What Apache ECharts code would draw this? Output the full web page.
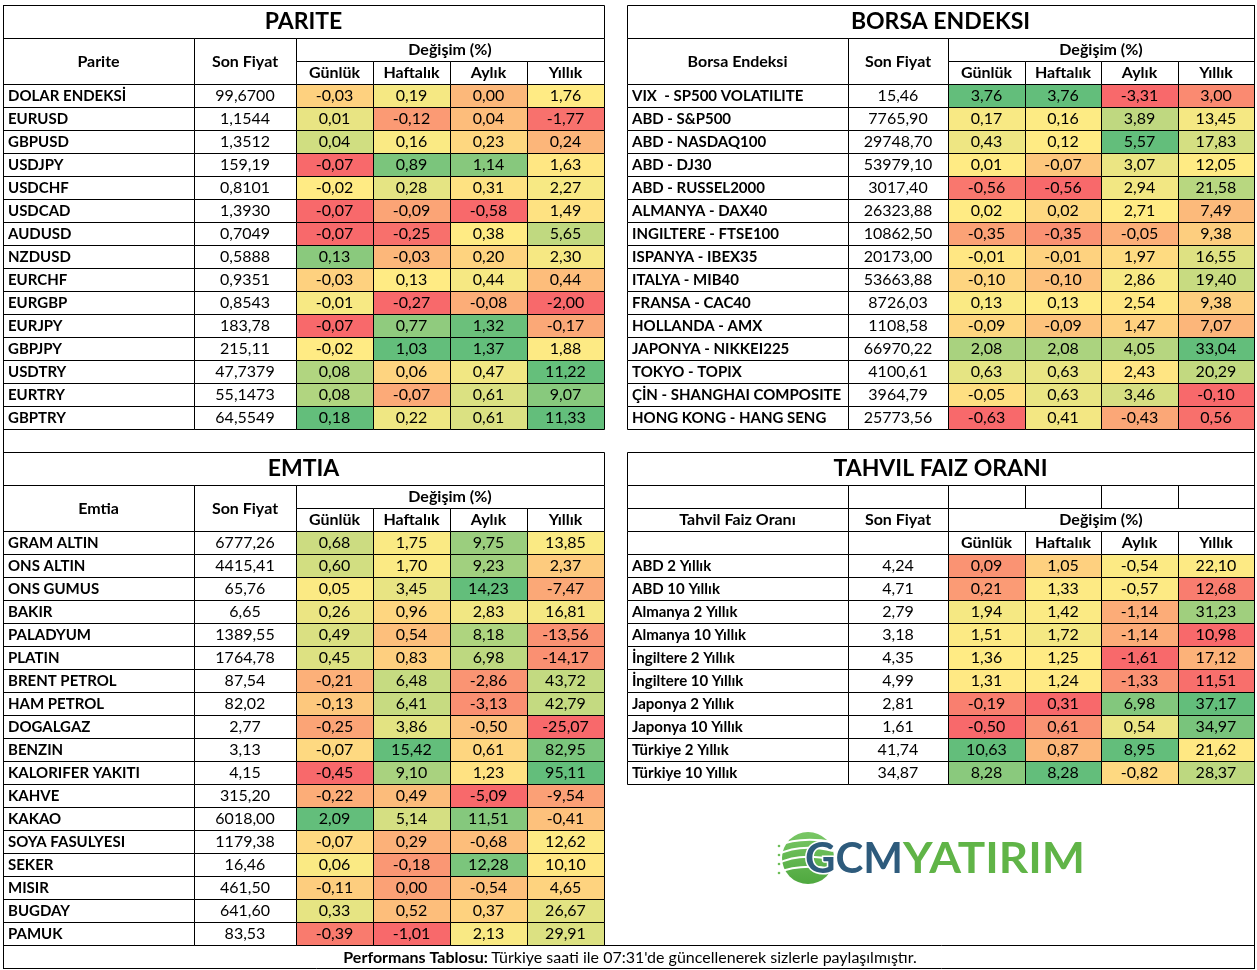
<!DOCTYPE html>
<html><head><meta charset="utf-8">
<script src="https://cdn.jsdelivr.net/npm/echarts@6/dist/echarts.min.js"></script>
<style>html,body{margin:0;padding:0;background:#fff}#c{width:1257px;height:970px}</style>
</head><body><div id="c"></div>
<script>
// ---------------- DATA ----------------
const changeHeaders = ['Günlük', 'Haftalık', 'Aylık', 'Yıllık'];

const pariteNames = ['DOLAR ENDEKSİ','EURUSD','GBPUSD','USDJPY','USDCHF','USDCAD','AUDUSD','NZDUSD','EURCHF','EURGBP','EURJPY','GBPJPY','USDTRY','EURTRY','GBPTRY'];
const paritePrices = [99.67, 1.1544, 1.3512, 159.19, 0.8101, 1.3930, 0.7049, 0.5888, 0.9351, 0.8543, 183.78, 215.11, 47.7379, 55.1473, 64.5549];
const pariteDecimals = [4,4,4,2,4,4,4,4,4,4,2,2,4,4,4];
const pariteDaily   = [-0.03, 0.01, 0.04, -0.07, -0.02, -0.07, -0.07, 0.13, -0.03, -0.01, -0.07, -0.02, 0.08, 0.08, 0.18];
const pariteWeekly  = [0.19, -0.12, 0.16, 0.89, 0.28, -0.09, -0.25, -0.03, 0.13, -0.27, 0.77, 1.03, 0.06, -0.07, 0.22];
const pariteMonthly = [0.00, 0.04, 0.23, 1.14, 0.31, -0.58, 0.38, 0.20, 0.44, -0.08, 1.32, 1.37, 0.47, 0.61, 0.61];
const pariteYearly  = [1.76, -1.77, 0.24, 1.63, 2.27, 1.49, 5.65, 2.30, 0.44, -2.00, -0.17, 1.88, 11.22, 9.07, 11.33];

const borsaNames = ['VIX  - SP500 VOLATILITE','ABD - S&P500','ABD - NASDAQ100','ABD - DJ30','ABD - RUSSEL2000','ALMANYA - DAX40','INGILTERE - FTSE100','ISPANYA - IBEX35','ITALYA - MIB40','FRANSA - CAC40','HOLLANDA - AMX','JAPONYA - NIKKEI225','TOKYO - TOPIX','ÇİN - SHANGHAI COMPOSITE','HONG KONG - HANG SENG'];
const borsaPrices = [15.46, 7765.90, 29748.70, 53979.10, 3017.40, 26323.88, 10862.50, 20173.00, 53663.88, 8726.03, 1108.58, 66970.22, 4100.61, 3964.79, 25773.56];
const borsaDaily   = [3.76, 0.17, 0.43, 0.01, -0.56, 0.02, -0.35, -0.01, -0.10, 0.13, -0.09, 2.08, 0.63, -0.05, -0.63];
const borsaWeekly  = [3.76, 0.16, 0.12, -0.07, -0.56, 0.02, -0.35, -0.01, -0.10, 0.13, -0.09, 2.08, 0.63, 0.63, 0.41];
const borsaMonthly = [-3.31, 3.89, 5.57, 3.07, 2.94, 2.71, -0.05, 1.97, 2.86, 2.54, 1.47, 4.05, 2.43, 3.46, -0.43];
const borsaYearly  = [3.00, 13.45, 17.83, 12.05, 21.58, 7.49, 9.38, 16.55, 19.40, 9.38, 7.07, 33.04, 20.29, -0.10, 0.56];

const emtiaNames = ['GRAM ALTIN','ONS ALTIN','ONS GUMUS','BAKIR','PALADYUM','PLATIN','BRENT PETROL','HAM PETROL','DOGALGAZ','BENZIN','KALORIFER YAKITI','KAHVE','KAKAO','SOYA FASULYESI','SEKER','MISIR','BUGDAY','PAMUK'];
const emtiaPrices = [6777.26, 4415.41, 65.76, 6.65, 1389.55, 1764.78, 87.54, 82.02, 2.77, 3.13, 4.15, 315.20, 6018.00, 1179.38, 16.46, 461.50, 641.60, 83.53];
const emtiaDaily   = [0.68, 0.60, 0.05, 0.26, 0.49, 0.45, -0.21, -0.13, -0.25, -0.07, -0.45, -0.22, 2.09, -0.07, 0.06, -0.11, 0.33, -0.39];
const emtiaWeekly  = [1.75, 1.70, 3.45, 0.96, 0.54, 0.83, 6.48, 6.41, 3.86, 15.42, 9.10, 0.49, 5.14, 0.29, -0.18, 0.00, 0.52, -1.01];
const emtiaMonthly = [9.75, 9.23, 14.23, 2.83, 8.18, 6.98, -2.86, -3.13, -0.50, 0.61, 1.23, -5.09, 11.51, -0.68, 12.28, -0.54, 0.37, 2.13];
const emtiaYearly  = [13.85, 2.37, -7.47, 16.81, -13.56, -14.17, 43.72, 42.79, -25.07, 82.95, 95.11, -9.54, -0.41, 12.62, 10.10, 4.65, 26.67, 29.91];

const tahvilNames = ['ABD 2 Yıllık','ABD 10 Yıllık','Almanya 2 Yıllık','Almanya 10 Yıllık','İngiltere 2 Yıllık','İngiltere 10 Yıllık','Japonya 2 Yıllık','Japonya 10 Yıllık','Türkiye 2 Yıllık','Türkiye 10 Yıllık'];
const tahvilPrices = [4.24, 4.71, 2.79, 3.18, 4.35, 4.99, 2.81, 1.61, 41.74, 34.87];
const tahvilDaily   = [0.09, 0.21, 1.94, 1.51, 1.36, 1.31, -0.19, -0.50, 10.63, 8.28];
const tahvilWeekly  = [1.05, 1.33, 1.42, 1.72, 1.25, 1.24, 0.31, 0.61, 0.87, 8.28];
const tahvilMonthly = [-0.54, -0.57, -1.14, -1.14, -1.61, -1.33, 6.98, 0.54, 8.95, -0.82];
const tahvilYearly  = [22.10, 12.68, 31.23, 10.98, 17.12, 11.51, 37.17, 34.97, 21.62, 28.37];

// ---------------- LAYOUT / STYLE ----------------
const FONT = 'Lato, Carlito, "Liberation Sans", sans-serif';
const DATA_SIZE = 16, NAME_SIZE = 15, HEAD_SIZE = 16, TITLE_SIZE = 23;
const ROW = 23, TITLE_H = 33;
const LEFT_COLS = [3, 194, 296, 604];
const RIGHT_COLS = [627, 848, 948, 1254];
const RED = [248,105,107], YEL = [255,235,132], GRN = [99,190,123];

function fmt(v, d) { return v.toFixed(d).replace('.', ','); }
function pct(arr, p) {
  const s = [...arr].sort((a,b)=>a-b); const r = p*(s.length-1);
  const lo = Math.floor(r), hi = Math.ceil(r); return s[lo] + (s[hi]-s[lo])*(r-lo);
}
function mix(a,b,t){ return 'rgb(' + a.map((x,i)=>Math.round(x+(b[i]-x)*t)).join(',') + ')'; }
function colorScale(arr) {
  const mn = Math.min(...arr), mx = Math.max(...arr), md = pct(arr, 0.5);
  return v => v <= md ? mix(RED, YEL, md===mn ? 1 : (v-mn)/(md-mn)) : mix(YEL, GRN, mx===md ? 0 : (v-md)/(mx-md));
}

const tables = [
  { title:'PARITE', head:'Parite', names:pariteNames, prices:paritePrices, dec:pariteDecimals,
    changes:[pariteDaily,pariteWeekly,pariteMonthly,pariteYearly], cols:LEFT_COLS, top:5, kind:'std' },
  { title:'BORSA ENDEKSI', head:'Borsa Endeksi', names:borsaNames, prices:borsaPrices, dec:null,
    changes:[borsaDaily,borsaWeekly,borsaMonthly,borsaYearly], cols:RIGHT_COLS, top:5, kind:'std' },
  { title:'EMTIA', head:'Emtia', names:emtiaNames, prices:emtiaPrices, dec:null,
    changes:[emtiaDaily,emtiaWeekly,emtiaMonthly,emtiaYearly], cols:LEFT_COLS, top:452, kind:'std' },
  { title:'TAHVIL FAIZ ORANI', head:'Tahvil Faiz Oranı', names:tahvilNames, prices:tahvilPrices, dec:null,
    changes:[tahvilDaily,tahvilWeekly,tahvilMonthly,tahvilYearly], cols:RIGHT_COLS, top:452, kind:'tahvil' }
];

const grids = [], xAxes = [], yAxes = [], series = [], graphics = [];

function cellG(x, y, w, h, text, opt) {
  opt = opt || {};
  graphics.push({ type:'rect', shape:{ x:x+0.5, y:y+0.5, width:w, height:h },
    style:{ fill:'#fff', stroke:'#000', lineWidth:1 }, z:1 });
  if (text) graphics.push({ type:'text', x: x + w/2, y: y + h/2 + 0.5, z:2,
    style:{ text, font: 'bold ' + (opt.size||HEAD_SIZE) + 'px ' + FONT,
      fill:'#000', align:'center', verticalAlign:'middle' } });
}

function rectItem(api, fill, text, align, bold) {
  const c = api.coord([api.value(0), api.value(1)]);
  const s = api.size([1, 1]);
  const x0 = Math.round(c[0]-s[0]/2), x1 = Math.round(c[0]+s[0]/2);
  const y0 = Math.round(c[1]-s[1]/2), y1 = Math.round(c[1]+s[1]/2);
  return { type:'group', children:[
    { type:'rect', shape:{ x:x0+0.5, y:y0+0.5, width:x1-x0, height:y1-y0 },
      style:{ fill, stroke:'#000', lineWidth:1 } },
    { type:'text', x: align==='left' ? x0+5 : (x0+x1)/2, y:(y0+y1)/2 + 0.5,
      style:{ text, font:(bold?'bold ' + NAME_SIZE:DATA_SIZE) + 'px ' + FONT, fill:'#000',
        align: align, verticalAlign:'middle' } }
  ]};
}

tables.forEach(t => {
  const [xa, xb, xc, xd] = t.cols;
  const edges = [0,1,2,3,4].map(k => Math.round(xc + k*(xd-xc)/4));
  cellG(xa, t.top, xd-xa, TITLE_H, t.title, { size:TITLE_SIZE });
  let hy = t.top + TITLE_H;
  if (t.kind === 'std') {
    cellG(xa, hy, xb-xa, 2*ROW, t.head);
    cellG(xb, hy, xc-xb, 2*ROW, 'Son Fiyat');
    cellG(xc, hy, xd-xc, ROW, 'Değişim (%)');
    for (let k=0;k<4;k++) cellG(edges[k], hy+ROW, edges[k+1]-edges[k], ROW, changeHeaders[k]);
    hy += 2*ROW;
  } else {
    cellG(xa, hy, xb-xa, ROW, ''); cellG(xb, hy, xc-xb, ROW, '');
    for (let k=0;k<4;k++) cellG(edges[k], hy, edges[k+1]-edges[k], ROW, '');
    hy += ROW;
    cellG(xa, hy, xb-xa, ROW, t.head);
    cellG(xb, hy, xc-xb, ROW, 'Son Fiyat');
    cellG(xc, hy, xd-xc, ROW, 'Değişim (%)');
    cellG(xa, hy+ROW, xb-xa, ROW, ''); cellG(xb, hy+ROW, xc-xb, ROW, '');
    for (let k=0;k<4;k++) cellG(edges[k], hy+ROW, edges[k+1]-edges[k], ROW, changeHeaders[k]);
    hy += 2*ROW;
  }
  const n = t.names.length, H = n*ROW;
  const parts = [
    { left:xa, width:xb-xa, cats:['name'] },
    { left:xb, width:xc-xb, cats:['price'] },
    { left:xc, width:xd-xc, cats:changeHeaders }
  ];
  parts.forEach((p, pi) => {
    const gi = grids.length;
    grids.push({ left:p.left, top:hy, width:p.width, height:H, containLabel:false, show:false });
    xAxes.push({ gridIndex:gi, type:'category', data:p.cats, show:false });
    yAxes.push({ gridIndex:gi, type:'category', data:t.names, inverse:true, show:false });
    let data, render;
    if (pi === 0) {
      data = t.names.map((nm, i) => [0, i]);
      render = (params, api) => rectItem(api, '#fff', t.names[api.value(1)], 'left', true);
    } else if (pi === 1) {
      data = t.prices.map((v, i) => [0, i, v]);
      render = (params, api) => { const i = api.value(1);
        return rectItem(api, '#fff', fmt(t.prices[i], t.dec ? t.dec[i] : 2), 'center', false); };
    } else {
      const scales = t.changes.map(colorScale);
      data = [];
      t.changes.forEach((col, j) => col.forEach((v, i) => data.push([j, i, v])));
      render = (params, api) => { const j = api.value(0), v = api.value(2);
        return rectItem(api, scales[j](v), fmt(v, 2), 'center', false); };
    }
    series.push({ type:'custom', xAxisIndex:gi, yAxisIndex:gi, data, renderItem:render,
      silent:true, animation:false, clip:false });
  });
});

// footer and outer frame
graphics.push({ type:'rect', shape:{ x:3.5, y:945.5, width:1251, height:23 }, style:{ fill:'#fff', stroke:'#000', lineWidth:1 }, z:1 });
graphics.push({ type:'text', x:630, y:957.5, z:2, style:{
  text:'{b|Performans Tablosu:} {r|Türkiye saati ile 07:31\'de güncellenerek sizlerle paylaşılmıştır.}',
  align:'center', verticalAlign:'middle',
  rich:{ b:{ font:'bold 16px ' + FONT, fill:'#000' }, r:{ font:'16px ' + FONT, fill:'#000' } } } });
graphics.push({ type:'line', shape:{ x1:3.5, y1:5, x2:3.5, y2:969 }, style:{ stroke:'#000', lineWidth:1 }, z:3 });
graphics.push({ type:'line', shape:{ x1:1254.5, y1:5, x2:1254.5, y2:969 }, style:{ stroke:'#000', lineWidth:1 }, z:3 });

// logo
const LG = [
  { type:'circle', shape:{ cx:808, cy:858, r:26 }, style:{ fill:{ type:'linear', x:0, y:0, x2:0, y2:1,
      colorStops:[{offset:0,color:'#79C765'},{offset:1,color:'#4FA83F'}] } }, z:5 },
];
[[-14, 8], [-5, 10], [4, 10], [13, 8]].forEach(([dy, bend]) => {
  LG.push({ type:'bezierCurve', shape:{ x1:777, y1:858+dy+2, cpx1:800, cpy1:858+dy-bend, x2:833, y2:858+dy-2 },
    style:{ stroke:'#fff', lineWidth:2, fill:'none' }, z:6 });
});
[[-12],[ -3],[6],[15]].forEach(([dy]) => {
  LG.push({ type:'circle', shape:{ cx:779, cy:858+dy, r:1.3 }, style:{ fill:'#6DBE58' }, z:7 });
});
LG.push({ type:'text', x:805, y:859, z:8, scaleX:1.0, style:{ text:'GCM', font:'bold 42px ' + FONT, fill:'#2E5B7C',
  stroke:'#fff', lineWidth:3, strokeFirst:true, align:'left', verticalAlign:'middle' } });
LG.push({ type:'text', x:903, y:859, z:8, scaleX:1.09, style:{ text:'YATIRIM', font:'bold 42px ' + FONT, fill:'#60B447',
  align:'left', verticalAlign:'middle' } });
graphics.push(...LG);

const chart = echarts.init(document.getElementById('c'), null, { renderer:'canvas' });
chart.setOption({
  backgroundColor:'#fff', animation:false,
  grid:grids, xAxis:xAxes, yAxis:yAxes, series,
  graphic:{ elements: graphics }
});
</script></body></html>
